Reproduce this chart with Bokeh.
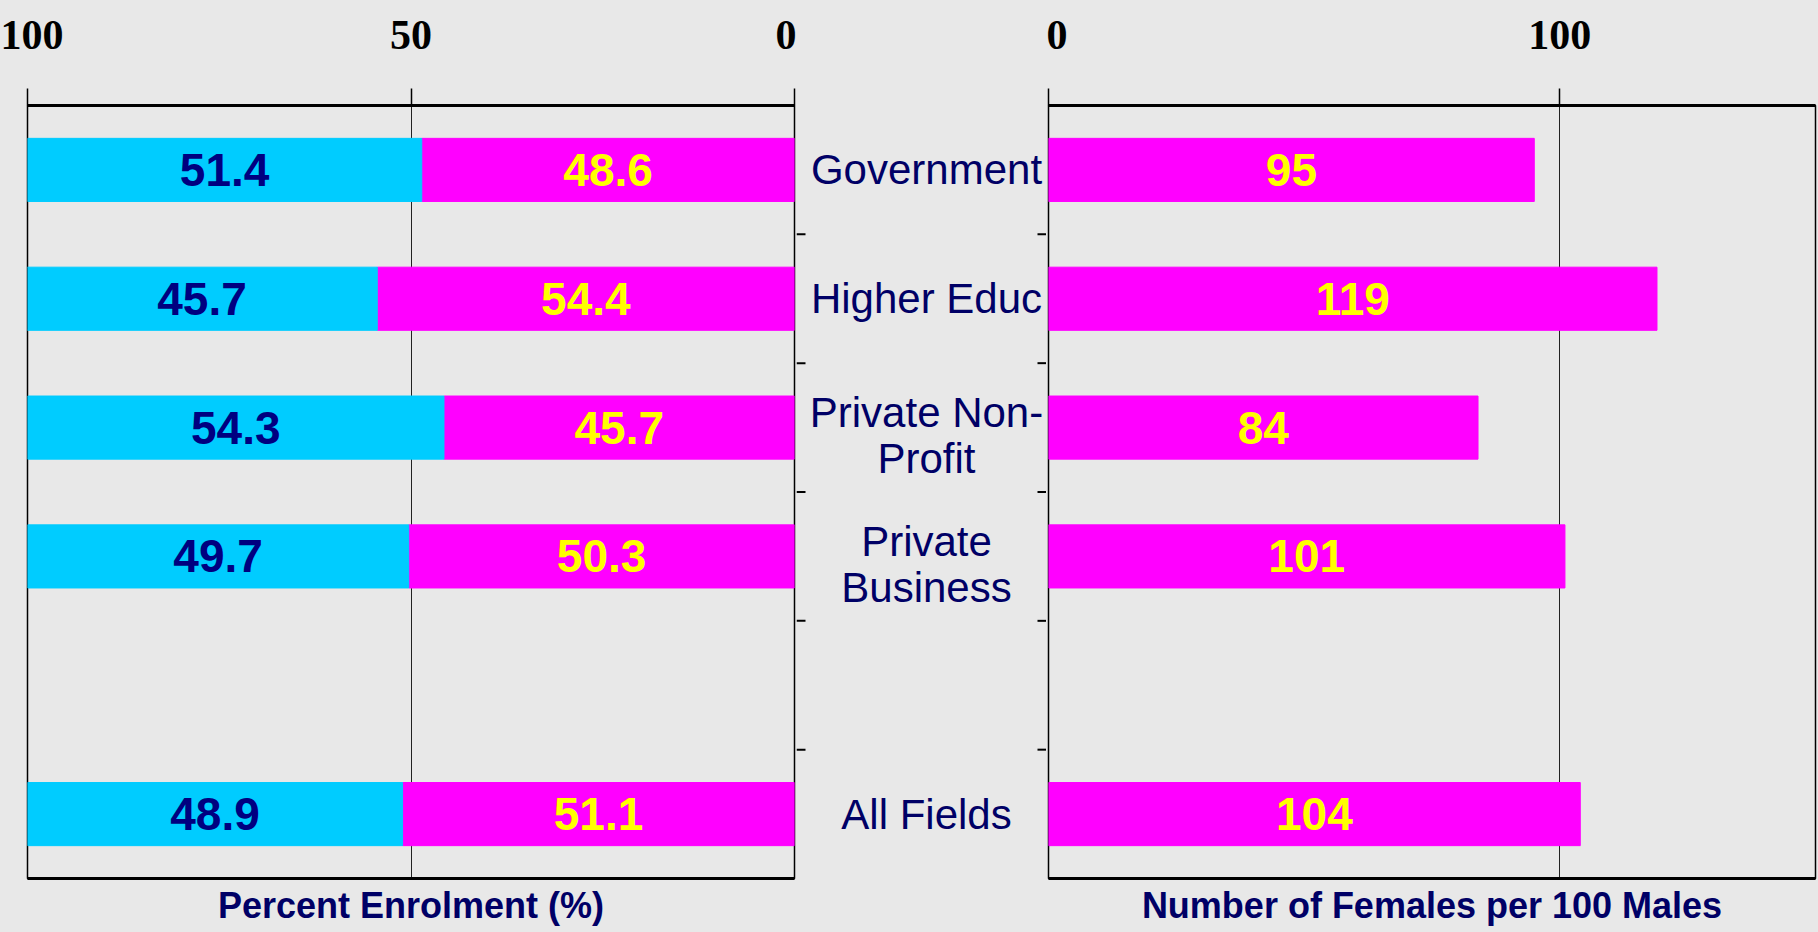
from bokeh.plotting import figure
from bokeh.models import Range1d, FixedTicker, LinearAxis, Grid, ColumnDataSource
from bokeh.layouts import row
from bokeh.embed import file_html
from bokeh.resources import INLINE
from bokeh.core.properties import value
import math

# ---------------- data ----------------
slot_labels = ["Government", "Higher Educ", "Private Non-\nProfit", "Private\nBusiness", "All Fields"]
slot_index = [0, 1, 2, 3, 5]          # row 4 is an empty gap row
n_slots = 6
male_pct = [51.4, 45.7, 54.3, 49.7, 48.9]
female_pct = [48.6, 54.4, 45.7, 50.3, 51.1]
females_per_100_males = [95, 119, 84, 101, 104]
left_ticks = [100, 50, 0]
right_ticks = [0, 100]
left_title = "Percent Enrolment (%)"
right_title = "Number of Females per 100 Males"

# ---------------- style ----------------
BG = "#E8E8E8"
CYAN = "#00CCFF"
MAGENTA = "#FF00FF"
NAVY = "#000066"
VAL_NAVY = "#000080"
YELLOW = "#FFFF00"
SANS = "Liberation Sans"
SERIF = "Liberation Serif"
VAL_SIZE = "46px"
BAR_H = 0.49

ys = [i + 0.5 for i in slot_index]
boundaries = list(range(1, n_slots))
yr = Range1d(n_slots, 0)

src = ColumnDataSource(dict(
    y=ys,
    male=male_pct,
    female=female_pct,
    total=[m + f for m, f in zip(male_pct, female_pct)],
    male_mid=[f + m / 2 for m, f in zip(male_pct, female_pct)],
    female_mid=[f / 2 for f in female_pct],
    male_txt=["%.1f" % v for v in male_pct],
    female_txt=["%.1f" % v for v in female_pct],
    ratio=females_per_100_males,
    ratio_mid=[r / 2 for r in females_per_100_males],
    ratio_txt=[str(r) for r in females_per_100_males],
    cat=slot_labels,
    cat_dy=[8 if "\n" in c else 0 for c in slot_labels],
))

TOP, BOT, H = 105, 54, 932


def base_fig(width, xr, left, right, outline=True):
    p = figure(width=width, height=H, x_range=xr, y_range=yr,
               x_axis_type=None, y_axis_type=None,
               output_backend="svg", toolbar_location=None,
               min_border_left=left, min_border_right=right,
               min_border_top=TOP, min_border_bottom=BOT)
    p.background_fill_color = BG
    p.border_fill_color = BG
    if outline:
        p.outline_line_color = "black"
        p.outline_line_width = 1.5
    else:
        p.outline_line_color = None
    return p


def add_axes(p, ticks, title):
    top = LinearAxis(ticker=FixedTicker(ticks=ticks, minor_ticks=[]),
                     major_tick_out=17, major_tick_in=0,
                     minor_tick_out=0, minor_tick_in=0,
                     axis_line_width=3, axis_line_color="black",
                     major_tick_line_width=1.5, major_tick_line_color="black",
                     major_label_standoff=40,
                     major_label_text_font=SERIF,
                     major_label_text_font_size="42px",
                     major_label_text_font_style="bold",
                     major_label_text_color="black")
    p.add_layout(top, "above")
    bot = LinearAxis(ticker=FixedTicker(ticks=[], minor_ticks=[]),
                     major_tick_out=0, major_tick_in=0,
                     minor_tick_out=0, minor_tick_in=0,
                     axis_line_width=3, axis_line_color="black",
                     major_label_text_font_size="0px",
                     axis_label=title,
                     axis_label_standoff=6,
                     axis_label_text_font=SANS,
                     axis_label_text_font_size="36px",
                     axis_label_text_font_style="bold",
                     axis_label_text_color=NAVY)
    p.add_layout(bot, "below")
    p.add_layout(Grid(dimension=0, ticker=FixedTicker(ticks=ticks, minor_ticks=[]),
                      grid_line_color="#222222", grid_line_width=1))


def value_labels(p, x, txt, color):
    p.text(x=x, y="y", text=txt, source=src,
           text_align="center", text_baseline="middle",
           text_font=value(SANS), text_font_style="bold",
           text_font_size=VAL_SIZE, text_color=color)


# ---------------- left: percent enrolment ----------------
p1 = base_fig(796, Range1d(100, 0), 27, 2)
add_axes(p1, left_ticks, left_title)
p1.hbar(y="y", left=0, right="female", height=BAR_H, color=MAGENTA, source=src)
p1.hbar(y="y", left="female", right="total", height=BAR_H, color=CYAN, source=src)
value_labels(p1, "female_mid", "female_txt", YELLOW)
value_labels(p1, "male_mid", "male_txt", VAL_NAVY)

# ---------------- middle: category labels ----------------
p2 = base_fig(250, Range1d(0, 1), 0, 0, outline=False)
p2.text(x=0.5, y="y", text="cat", source=src, x_offset=5, y_offset="cat_dy",
        text_align="center", text_baseline="middle",
        text_font=value(SANS), text_font_size="42px",
        text_line_height=0.97, text_color=NAVY)
p2.ray(x=0, y=boundaries, length=9, length_units="screen", angle=0,
       line_color="black", line_width=2)
p2.ray(x=1, y=boundaries, length=9, length_units="screen", angle=math.pi,
       line_color="black", line_width=2)

# ---------------- right: females per 100 males ----------------
p3 = base_fig(772, Range1d(0, 150), 2, 3)
add_axes(p3, right_ticks, right_title)
p3.hbar(y="y", left=0, right="ratio", height=BAR_H, color=MAGENTA, source=src)
value_labels(p3, "ratio_mid", "ratio_txt", YELLOW)

layout = row(p1, p2, p3, styles={"background-color": BG})
open("out.html", "w").write(file_html(layout, INLINE))
